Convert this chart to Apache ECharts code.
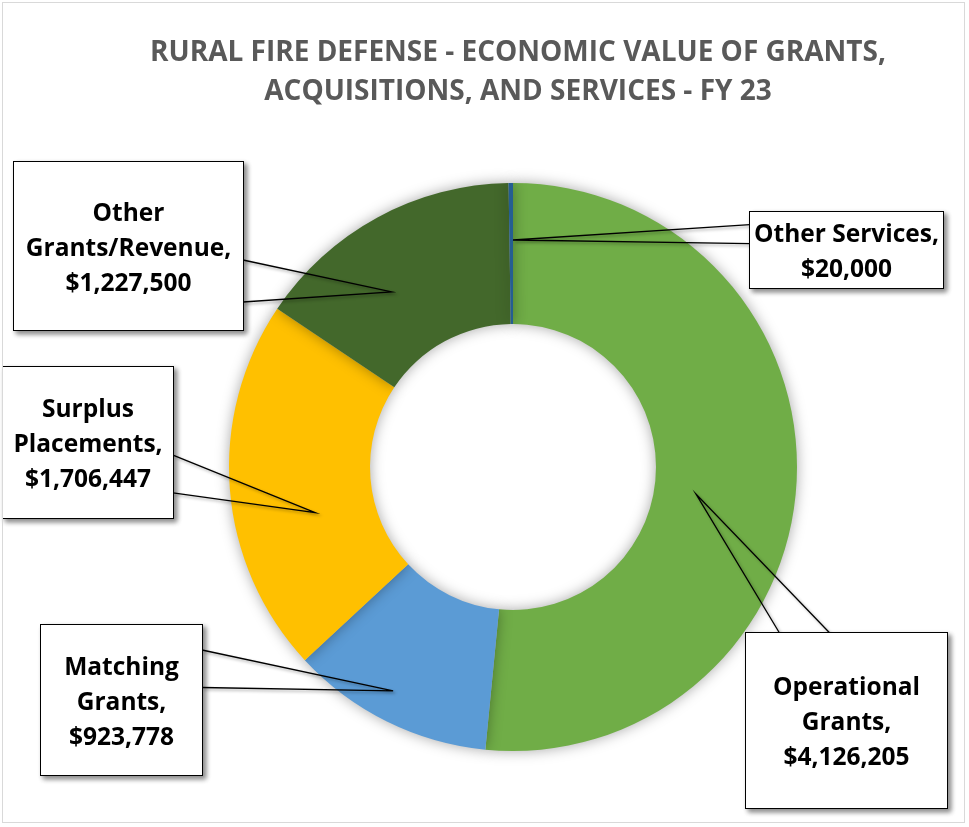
<!DOCTYPE html>
<html>
<head>
<meta charset="utf-8">
<script src="https://cdn.jsdelivr.net/npm/echarts@6/dist/echarts.min.js"></script>
<style>
html,body{margin:0;padding:0;background:#fff;}
#chart{width:969px;height:827px;}
#frame{position:absolute;left:2px;top:2px;width:963px;height:821px;border:1px solid #d9d9d9;pointer-events:none;box-sizing:border-box;}
</style>
</head>
<body>
<div id="chart"></div>
<div id="frame"></div>
<script>
// ---- data ----
const titleText = 'RURAL FIRE DEFENSE - ECONOMIC VALUE OF GRANTS,\nACQUISITIONS, AND SERVICES - FY 23';
const categories = ['Operational Grants', 'Matching Grants', 'Surplus Placements', 'Other Grants/Revenue', 'Other Services'];
const values = [4126205, 923778, 1706447, 1227500, 20000];

// ---- styles / layout ----
const colors = ['#70AD47', '#5B9BD5', '#FFC000', '#43682B', '#255E91'];
const center = [513, 467];
const radii = [143, 284];
const labelFont = 'Open Sans';
const labelSize = 24.5;
const labelLH = 35;
const textShift = 3;
// callout boxes (left, top, width, height) and anchor radius / angle shift
const boxes = [
  { x: 746, y: 633, w: 201, h: 175, r: 185, da: 5.6 },
  { x: 41,  y: 625, w: 161, h: 150, r: 254, da: 1.8 },
  { x: 3,   y: 367, w: 170, h: 151, r: 203, da: -8.5 },
  { x: 14,  y: 162, w: 229, h: 168, r: 213, da: -6.2 },
  { x: 750, y: 212, w: 193, h: 76,  r: 227, da: 0.45 }
];

const total = values.reduce((a, b) => a + b, 0);
const ctx = document.createElement('canvas').getContext('2d');
ctx.font = 'bold ' + labelSize + 'px "' + labelFont + '"';

function wrapText(text, maxW) {
  const words = text.split(' ');
  const lines = [];
  let cur = '';
  words.forEach(w => {
    const t = cur ? cur + ' ' + w : w;
    if (cur && ctx.measureText(t).width > maxW) { lines.push(cur); cur = w; }
    else cur = t;
  });
  if (cur) lines.push(cur);
  return lines;
}

function anchorPoint(i) {
  let cum = 0;
  for (let k = 0; k < i; k++) cum += values[k];
  const deg = 360 * (cum + values[i] / 2) / total + boxes[i].da;
  const a = deg * Math.PI / 180;
  return [center[0] + boxes[i].r * Math.sin(a), center[1] - boxes[i].r * Math.cos(a)];
}

// wedge-callout base on the box side that faces the anchor
function calloutPoints(i) {
  const b = boxes[i];
  const p = anchorPoint(i);
  const cx = b.x + b.w / 2, cy = b.y + b.h / 2;
  const dx = (p[0] - cx) / b.w, dy = (p[1] - cy) / b.h;
  const f1 = 1 / 6, f2 = 5 / 12, g1 = 7 / 12, g2 = 5 / 6;
  let e1, e2;
  if (Math.abs(dx) > Math.abs(dy)) {
    const ex = dx > 0 ? b.x + b.w : b.x;
    const below = dy > 0;
    e1 = [ex, b.y + b.h * (below ? g1 : f1)];
    e2 = [ex, b.y + b.h * (below ? g2 : f2)];
  } else {
    const ey = dy < 0 ? b.y : b.y + b.h;
    const right = dx > 0;
    e1 = [b.x + b.w * (right ? g1 : f1), ey];
    e2 = [b.x + b.w * (right ? g2 : f2), ey];
  }
  return [e1, p, e2];
}

// coloured ring (no labels)
const ringData = categories.map((name, i) => ({
  name: name,
  value: values[i],
  itemStyle: { color: colors[i] }
}));

// transparent overlay ring carrying the callout labels so the leader lines sit above the ring
const labelData = categories.map((name, i) => {
  const b = boxes[i];
  const lines = wrapText(name + ',', b.w - 4);
  lines.push('$' + values[i].toLocaleString('en-US'));
  const padV = (b.h - lines.length * labelLH) / 2;
  return {
    name: name,
    value: values[i],
    label: {
      formatter: lines.join('\n'),
      width: b.w,
      padding: [padV + textShift, 0, padV - textShift, 0]
    }
  };
});

const chart = echarts.init(document.getElementById('chart'), null, { renderer: 'canvas' });
chart.setOption({
  animation: false,
  backgroundColor: '#ffffff',
  title: {
    text: titleText,
    left: 513,
    top: 28,
    textAlign: 'center',
    textStyle: {
      fontFamily: labelFont,
      fontWeight: 'bold',
      fontSize: 28,
      lineHeight: 39.5,
      color: '#595959'
    }
  },
  series: [{
    type: 'pie',
    z: 2,
    center: center,
    radius: radii,
    startAngle: 90,
    clockwise: true,
    emphasis: { disabled: true },
    itemStyle: {
      borderWidth: 0,
      shadowBlur: 14,
      shadowColor: 'rgba(0,0,0,0.35)'
    },
    label: { show: false },
    labelLine: { show: false },
    data: ringData
  }, {
    type: 'pie',
    z: 5,
    center: center,
    radius: radii,
    startAngle: 90,
    clockwise: true,
    avoidLabelOverlap: false,
    silent: true,
    emphasis: { disabled: true },
    itemStyle: {
      color: 'rgba(0,0,0,0)',
      borderWidth: 0
    },
    label: {
      show: true,
      position: 'outside',
      fontFamily: labelFont,
      fontWeight: 'bold',
      fontSize: labelSize,
      lineHeight: labelLH,
      color: '#000000',
      align: 'center',
      backgroundColor: '#ffffff',
      borderColor: '#000000',
      borderWidth: 1,
      shadowBlur: 5,
      shadowOffsetX: 3,
      shadowOffsetY: 3,
      shadowColor: 'rgba(0,0,0,0.45)'
    },
    labelLine: {
      show: true,
      smooth: false,
      lineStyle: {
        color: '#000000',
        opacity: 1,
        width: 1.3,
        shadowBlur: 3,
        shadowOffsetX: 2,
        shadowOffsetY: 2,
        shadowColor: 'rgba(0,0,0,0.35)'
      }
    },
    labelLayout: function (params) {
      const i = params.dataIndex;
      const b = boxes[i];
      return {
        x: b.x + b.w / 2,
        y: b.y,
        align: 'center',
        verticalAlign: 'top',
        hideOverlap: false,
        labelLinePoints: calloutPoints(i)
      };
    },
    data: labelData
  }]
});
</script>
</body>
</html>
